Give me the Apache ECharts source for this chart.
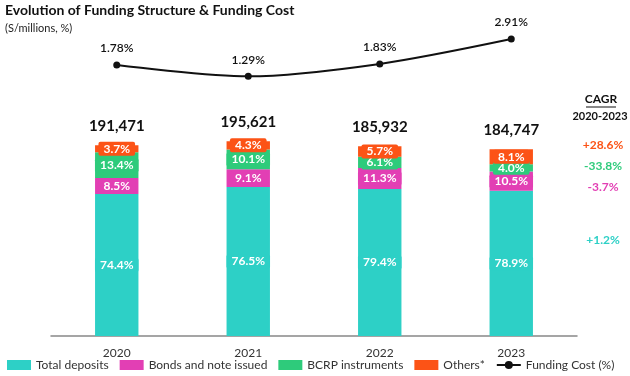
<!DOCTYPE html>
<html>
<head>
<meta charset="utf-8">
<script src="https://cdn.jsdelivr.net/npm/echarts@6/dist/echarts.min.js"></script>
<style>
  html, body { margin: 0; padding: 0; background: #fff; }
  #chart { width: 630px; height: 376px; }
</style>
</head>
<body>
<div id="chart"></div>
<script>
const years = ['2020', '2021', '2022', '2023'];
const totals = [191471, 195621, 185932, 184747];
const depositsPct = [74.4, 76.5, 79.4, 78.9];
const bondsPct = [8.5, 9.1, 11.3, 10.5];
const bcrpPct = [13.4, 10.1, 6.1, 4.0];
const othersPct = [3.7, 4.3, 5.7, 8.1];
const fundingCost = [1.78, 1.29, 1.83, 2.91];
const cagrLabels = ['+28.6%', '-33.8%', '-3.7%', '+1.2%'];

const colors = {
  deposits: '#2dd0c6',
  bonds: '#e23fb4',
  bcrp: '#2ecb7b',
  others: '#fc5316'
};
const font = 'Lato';

// segment value = total * share
const toValues = pct => pct.map((p, i) => ({ value: totals[i] * p / 100, pct: p }));

const segLabel = (color) => ({
  show: true,
  position: 'inside',
  color: '#fff',
  fontWeight: 'bold',
  fontSize: 12,
  fontFamily: font,
  backgroundColor: color,
  padding: [1, 5],
  borderRadius: 2,
  formatter: p => p.data.pct.toFixed(1) + '%'
});

const barSeries = (name, pct, color) => ({
  name: name,
  type: 'bar',
  stack: 'fund',
  barWidth: '33%',
  xAxisIndex: 0,
  yAxisIndex: 0,
  itemStyle: { color: color },
  label: segLabel(color),
  data: toValues(pct)
});

const cagrText = (text, x, y, color, size) => ({
  type: 'text', x: x, y: y,
  style: {
    text: text, fontSize: size || 12, fontWeight: 'bold', fill: color, fontFamily: font,
    align: 'center', verticalAlign: 'middle'
  }
});

const chart = echarts.init(document.getElementById('chart'));

const option = {
  animation: false,
  textStyle: { fontFamily: font },
  title: [
    {
      text: 'Evolution of Funding Structure & Funding Cost',
      left: 0, top: -2,
      textStyle: { fontSize: 14, fontWeight: 'bold', color: '#111', fontFamily: font }
    },
    {
      text: '(S/millions, %)',
      left: 0, top: 18,
      textStyle: { fontSize: 11, fontWeight: 'normal', color: '#222', fontFamily: font }
    }
  ],
  legend: {
    bottom: 0,
    left: 2,
    itemWidth: 24,
    itemHeight: 10,
    itemGap: 11,
    textStyle: { fontSize: 12, color: '#333', fontFamily: font },
    data: [
      { name: 'Total deposits', icon: 'rect' },
      { name: 'Bonds and note issued', icon: 'rect' },
      { name: 'BCRP instruments', icon: 'rect' },
      { name: 'Others*', icon: 'rect' },
      { name: 'Funding Cost (%)' }
    ]
  },
  grid: [
    { left: 51, right: 53, top: 87, bottom: 40 },
    { left: 51, right: 53, top: 37, bottom: 270 }
  ],
  xAxis: [
    {
      type: 'category', gridIndex: 0, data: years,
      axisLine: { lineStyle: { color: '#888', width: 1.5 } },
      axisTick: { show: false },
      axisLabel: { fontSize: 12, color: '#333', margin: 11, fontFamily: font }
    },
    {
      type: 'category', gridIndex: 1, data: years, show: false
    }
  ],
  yAxis: [
    { type: 'value', gridIndex: 0, min: 0, max: 250000, show: false },
    { type: 'value', gridIndex: 1, min: 0, max: 3, show: false }
  ],
  series: [
    barSeries('Total deposits', depositsPct, colors.deposits),
    barSeries('Bonds and note issued', bondsPct, colors.bonds),
    barSeries('BCRP instruments', bcrpPct, colors.bcrp),
    barSeries('Others*', othersPct, colors.others),
    {
      name: 'total',
      type: 'bar',
      stack: 'fund',
      barWidth: '33%',
      data: totals.map(() => 0),
      label: {
        show: true,
        position: 'top',
        distance: 12,
        fontSize: 15,
        fontWeight: 'bold',
        color: '#111',
        fontFamily: font,
        formatter: p => totals[p.dataIndex].toLocaleString('en-US')
      }
    },
    {
      name: 'Funding Cost (%)',
      type: 'line',
      xAxisIndex: 1,
      yAxisIndex: 1,
      smooth: 0.3,
      symbol: 'circle',
      symbolSize: 7,
      lineStyle: { color: '#111', width: 2 },
      itemStyle: { color: '#111' },
      label: {
        show: true,
        position: 'top',
        distance: 7,
        fontSize: 12,
        fontWeight: 600,
        color: '#111',
        fontFamily: font,
        formatter: p => p.value.toFixed(2) + '%'
      },
      data: fundingCost
    }
  ],
  graphic: [
    cagrText('CAGR', 601, 99, '#111'),
    {
      type: 'line', shape: { x1: 586, y1: 107, x2: 616, y2: 107 },
      style: { stroke: '#111', lineWidth: 1 }
    },
    cagrText('2020-2023', 600, 116, '#111', 11),
    cagrText(cagrLabels[0], 603, 145, colors.others),
    cagrText(cagrLabels[1], 603, 166, colors.bcrp),
    cagrText(cagrLabels[2], 603, 187, colors.bonds),
    cagrText(cagrLabels[3], 603, 240, colors.deposits)
  ]
};

chart.setOption(option);
</script>
</body>
</html>
